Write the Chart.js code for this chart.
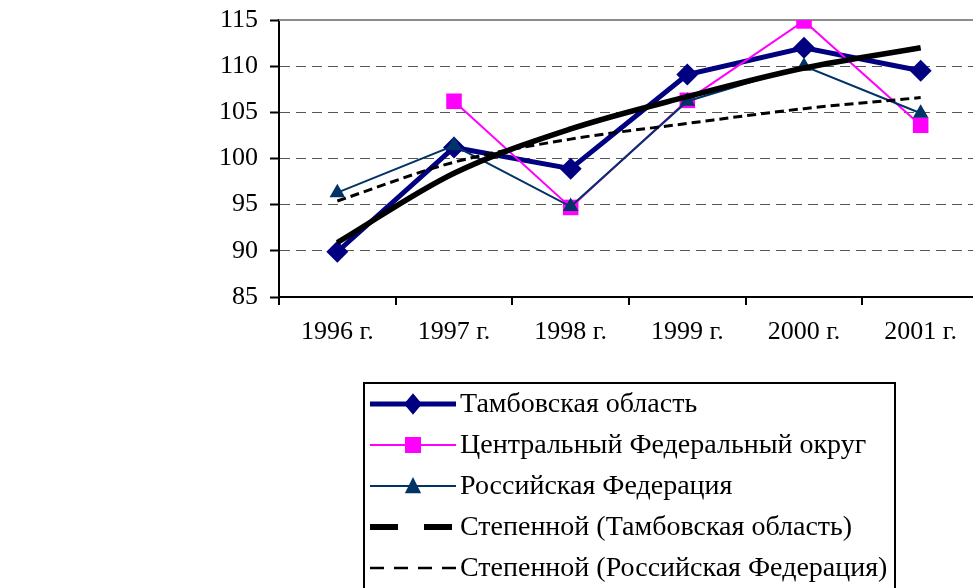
<!DOCTYPE html>
<html>
<head>
<meta charset="utf-8">
<script src="https://cdn.jsdelivr.net/npm/chart.js@4.4.0/dist/chart.umd.min.js"></script>
<style>
    html, body { margin: 0; padding: 0; overflow: hidden; background: #fff; }
    #wrap { width: 990px; height: 588px; }
</style>
</head>
<body>
<div id="wrap"><canvas id="chart"></canvas></div>
<script>
// categories and values
const years = ["1996 г.", "1997 г.", "1998 г.", "1999 г.", "2000 г.", "2001 г."];
const tambov = [89.9, 101.2, 98.9, 109.1, 112.0, 109.5];
const centralFD = [null, 106.2, 94.7, 106.3, 114.9, 103.6];
const russia = [96.3, 101.4, 94.8, 106.2, 110.0, 104.9];
const trendTambov = [90.9, 98.4, 103.2, 106.7, 109.8, 112.0];
const trendRussia = [95.4, 99.6, 102.1, 103.8, 105.4, 106.6];
const yTicks = [85, 90, 95, 100, 105, 110, 115];

const FONT = "'Liberation Serif', 'Times New Roman', serif";

// solid grey line along the top of the plot
const topLine = {
    id: 'topLine',
    beforeDatasetsDraw(chart) {
        const { ctx, chartArea, scales } = chart;
        const y = scales.y.getPixelForValue(yTicks[yTicks.length - 1]);
        ctx.save();
        ctx.strokeStyle = '#8c8c8c';
        ctx.lineWidth = 2;
        ctx.beginPath();
        ctx.moveTo(chartArea.left, y);
        ctx.lineTo(chartArea.right, y);
        ctx.stroke();
        ctx.restore();
    }
};

function drawMarker(ctx, style, x, y, r, color) {
    ctx.fillStyle = color;
    ctx.beginPath();
    if (style === 'rectRot') {
        ctx.moveTo(x, y - r * 1.2); ctx.lineTo(x + r, y); ctx.lineTo(x, y + r * 1.2); ctx.lineTo(x - r, y);
    } else if (style === 'rect') {
        ctx.rect(x - r, y - r, 2 * r, 2 * r);
    } else if (style === 'triangle') {
        ctx.moveTo(x, y - r); ctx.lineTo(x + r * 0.9, y + r * 0.8); ctx.lineTo(x - r * 0.9, y + r * 0.8);
    }
    ctx.closePath();
    ctx.fill();
}

// boxed legend under the plot, one row per series
const boxLegend = {
    id: 'boxLegend',
    afterDraw(chart) {
        const ctx = chart.ctx;
        const left = 364, top = 383, width = 531, rowTop = 404, rowGap = 41;
        ctx.save();
        ctx.strokeStyle = '#000';
        ctx.lineWidth = 2;
        ctx.strokeRect(left, top, width, 240);
        chart.data.datasets.forEach((ds, i) => {
            const y = rowTop + i * rowGap;
            ctx.strokeStyle = ds.borderColor;
            ctx.lineWidth = ds.legendWidth || ds.borderWidth;
            ctx.setLineDash(ds.legendDash || []);
            ctx.beginPath();
            ctx.moveTo(left + 6, y);
            ctx.lineTo(left + 92, y);
            ctx.stroke();
            ctx.setLineDash([]);
            if (ds.pointRadius) drawMarker(ctx, ds.pointStyle, left + 49, y, ds.legendMarker, ds.pointBackgroundColor);
            ctx.fillStyle = '#000';
            ctx.font = '28px ' + FONT;
            ctx.textBaseline = 'middle';
            ctx.fillText(ds.label, left + 96, y + 1);
        });
        ctx.restore();
    }
};

const ctx = document.getElementById('chart').getContext('2d');
const chart = new Chart(ctx, {
    type: 'line',
    data: {
        labels: years,
        datasets: [{
            label: 'Тамбовская область',
            data: tambov,
            borderColor: '#000080',
            borderWidth: 5,
            pointStyle: 'rectRot',
            pointRadius: 11,
            pointBackgroundColor: '#000080',
            pointBorderWidth: 0,
            legendMarker: 9,
            order: 5
        }, {
            label: 'Центральный Федеральный округ',
            data: centralFD,
            borderColor: '#ff00ff',
            borderWidth: 2,
            pointStyle: 'rect',
            pointRadius: 11,
            pointBackgroundColor: '#ff00ff',
            pointBorderWidth: 0,
            legendMarker: 8,
            order: 4
        }, {
            label: 'Российская Федерация',
            data: russia,
            borderColor: '#003366',
            borderWidth: 2,
            pointStyle: 'triangle',
            pointRadius: 9,
            pointBackgroundColor: '#003366',
            pointBorderWidth: 0,
            legendMarker: 9,
            order: 3
        }, {
            label: 'Степенной (Тамбовская область)',
            data: trendTambov,
            borderColor: '#000',
            borderWidth: 5.5,
            legendDash: [28, 26],
            legendWidth: 6,
            pointRadius: 0,
            cubicInterpolationMode: 'monotone',
            order: 2
        }, {
            label: 'Степенной (Российская Федерация)',
            data: trendRussia,
            borderColor: '#000',
            borderWidth: 3,
            borderDash: [9, 5],
            legendDash: [14, 10],
            legendWidth: 2.5,
            pointRadius: 0,
            cubicInterpolationMode: 'monotone',
            order: 1
        }]
    },
    options: {
        responsive: true,
        maintainAspectRatio: false,
        animation: false,
        layout: { padding: { top: 20, right: 9, left: 0, bottom: 0 } },
        plugins: {
            legend: { display: false },
            tooltip: { enabled: false }
        },
        scales: {
            x: {
                offset: true,
                grid: {
                    offset: true,
                    drawOnChartArea: false,
                    tickLength: 8,
                    color: '#000',
                    lineWidth: 2
                },
                border: { color: '#000', width: 2 },
                ticks: {
                    color: '#000',
                    font: { family: FONT, size: 26 },
                    padding: 12,
                    maxRotation: 0,
                    autoSkip: false
                },
                afterFit: (scale) => {
                    scale.height = 291;
                    scale.paddingLeft = 0;
                    scale.paddingRight = 0;
                }
            },
            y: {
                min: yTicks[0],
                max: yTicks[yTicks.length - 1],
                afterBuildTicks: (scale) => { scale.ticks = yTicks.map(v => ({ value: v })); },
                grid: {
                    color: (c) => (c.tick && (c.tick.value === 115 || c.tick.value === 85)) ? 'rgba(0,0,0,0)' : '#555',
                    lineWidth: 1,
                    tickLength: 9,
                    tickColor: '#000',
                    tickWidth: 2
                },
                border: { color: '#000', width: 2, dash: [10, 6] },
                ticks: {
                    color: '#000',
                    font: { family: FONT, size: 26 },
                    padding: 12
                },
                afterFit: (scale) => {
                    scale.width = 279;
                    scale.paddingTop = 0;
                    scale.paddingBottom = 0;
                }
            }
        }
    },
    plugins: [topLine, boxLegend]
});
</script>
</body>
</html>
